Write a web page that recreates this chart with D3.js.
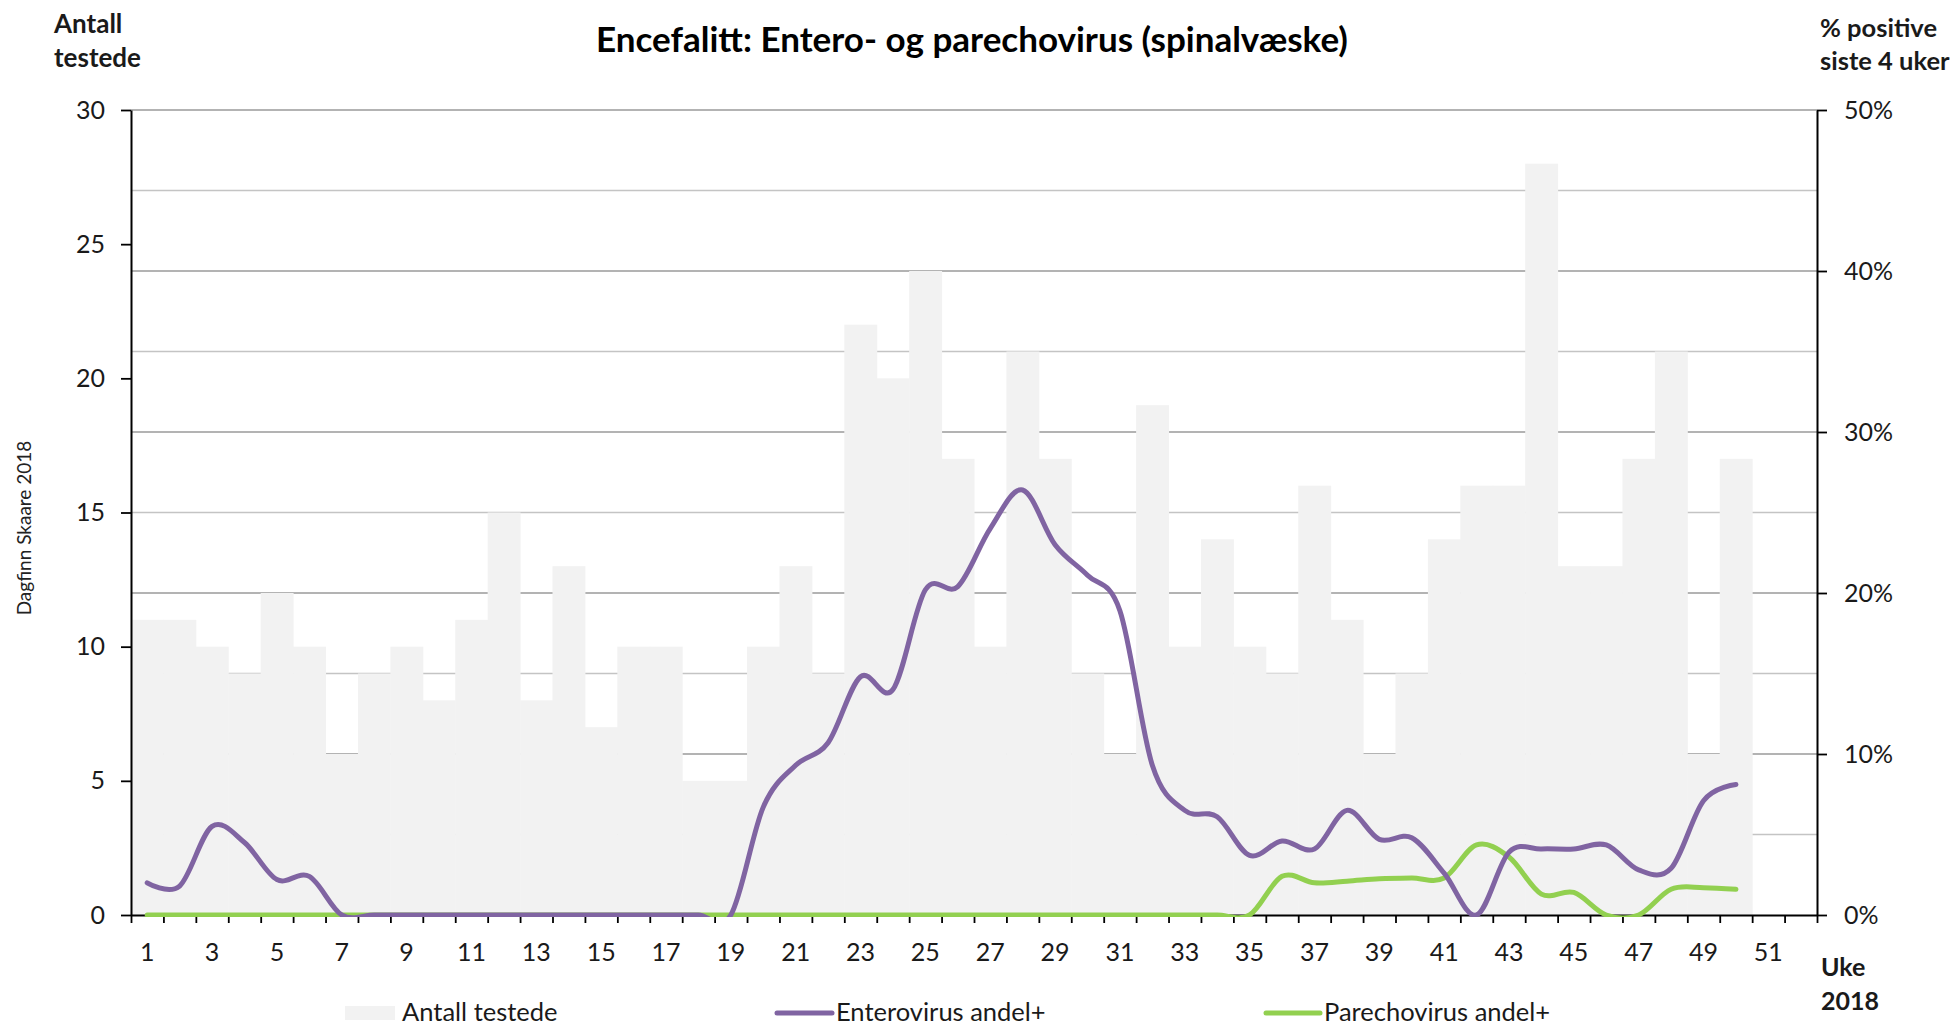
<!DOCTYPE html>
<html>
<head>
<meta charset="utf-8">
<script src="https://cdn.jsdelivr.net/npm/d3@7"></script>
<style>
  body { margin: 0; background: #fff; }
  svg { display: block; font-family: Lato, "Open Sans", sans-serif; }
</style>
</head>
<body>
<div id="chart"></div>
<script>
// Weeks shown on the category axis
const weeks = d3.range(1, 53);
const weekLabels = weeks.filter(w => w % 2 === 1);

// Antall testede per uke (uke 1-50)
const tested = [11, 11, 10, 9, 12, 10, 6, 9, 10, 8,
    11, 15, 8, 13, 7, 10, 10, 5, 5, 10,
    13, 9, 22, 20, 24, 17, 10, 21, 17, 9,
    6, 19, 10, 14, 10, 9, 16, 11, 6, 9,
    14, 16, 16, 28, 13, 13, 17, 21, 6, 17];

// % positive siste 4 uker
const enterovirus = [2.0, 1.8, 5.5, 4.5, 2.2, 2.4, 0, 0, 0, 0,
    0, 0, 0, 0, 0, 0, 0, 0, 0, 6.7,
    9.3, 10.7, 14.8, 14.0, 20.2, 20.4, 24.0, 26.4, 23.0, 21.1,
    18.9, 9.3, 6.5, 6.1, 3.7, 4.6, 4.1, 6.5, 4.7, 4.8,
    2.6, 0, 3.9, 4.1, 4.1, 4.35, 2.8, 2.9, 7.1, 8.1];
const parechovirus = [0, 0, 0, 0, 0, 0, 0, 0, 0, 0,
    0, 0, 0, 0, 0, 0, 0, 0, 0, 0,
    0, 0, 0, 0, 0, 0, 0, 0, 0, 0,
    0, 0, 0, 0, 0, 2.4, 2.0, 2.1, 2.25, 2.3,
    2.3, 4.35, 3.6, 1.3, 1.4, 0, 0, 1.6, 1.7, 1.6];

const leftTicks = [0, 5, 10, 15, 20, 25, 30];
const rightTicks = [0, 10, 20, 30, 40, 50];
const gridValues = d3.range(0, 55, 5);

const width = 1955, height = 1029;
const margin = { top: 110, right: 138, bottom: 114, left: 131 };
const plotW = width - margin.left - margin.right;
const plotH = height - margin.top - margin.bottom;

const svg = d3.select("#chart")
    .append("svg")
    .attr("width", width)
    .attr("height", height);

const g = svg.append("g")
    .attr("transform", `translate(${margin.left},${margin.top})`);

// Scales
const x = d3.scaleBand().domain(weeks).range([0, plotW]).padding(0);
const xEdges = d3.scaleLinear().domain([0, weeks.length]).range([0, plotW]);
const yLeft = d3.scaleLinear().domain([0, 30]).range([plotH, 0]);
const yRight = d3.scaleLinear().domain([0, 50]).range([plotH, 0]);

// Gridlines (every 5 % on the right axis)
g.selectAll(".grid")
    .data(gridValues.filter(v => v > 0))
    .enter()
    .append("line")
    .attr("x1", 0)
    .attr("x2", plotW)
    .attr("y1", d => yRight(d))
    .attr("y2", d => yRight(d))
    .attr("stroke", d => d % 10 === 0 ? "#9a9a9a" : "#c4c4c4")
    .attr("stroke-width", 1.5);

// Bars
g.selectAll(".bar")
    .data(tested)
    .enter()
    .append("rect")
    .attr("x", (d, i) => x(weeks[i]))
    .attr("y", d => yLeft(d))
    .attr("width", x.bandwidth() + 0.5)
    .attr("height", d => plotH - yLeft(d))
    .attr("fill", "#f2f2f2");

// Axes
const leftAxis = g.append("g")
    .call(d3.axisLeft(yLeft).tickValues(leftTicks).tickSize(10).tickPadding(16).tickSizeOuter(0));

const rightAxis = g.append("g")
    .attr("transform", `translate(${plotW},0)`)
    .call(d3.axisRight(yRight).tickValues(rightTicks).tickSize(10).tickPadding(17).tickSizeOuter(0)
        .tickFormat(d => d + "%"));

const edgeAxis = g.append("g")
    .attr("transform", `translate(0,${plotH})`)
    .call(d3.axisBottom(xEdges).tickValues(d3.range(0, weeks.length + 1))
        .tickSize(8).tickFormat("").tickSizeOuter(0));

const labelAxis = g.append("g")
    .attr("transform", `translate(0,${plotH})`)
    .call(d3.axisBottom(x).tickValues(weekLabels).tickSize(0).tickPadding(28));
labelAxis.select(".domain").remove();

[leftAxis, rightAxis, edgeAxis].forEach(a => {
    a.select(".domain").attr("stroke", "#000").attr("stroke-width", 2);
    a.selectAll(".tick line").attr("stroke", "#000").attr("stroke-width", 1.8);
});
[leftAxis, rightAxis, labelAxis].forEach(a => {
    a.selectAll("text")
        .attr("font-size", 25)
        .attr("font-family", "Lato, 'Open Sans', sans-serif")
        .attr("fill", "#1a1a1a");
});

// Lines, clipped to the plot area
svg.append("defs").append("clipPath")
    .attr("id", "plot-clip")
    .append("rect")
    .attr("x", 0)
    .attr("y", -4)
    .attr("width", plotW)
    .attr("height", plotH + 6);

const line = d3.line()
    .x((d, i) => x(weeks[i]) + x.bandwidth() / 2)
    .y(d => yRight(d))
    .curve(d3.curveCardinal.tension(0));

const lines = g.append("g").attr("clip-path", "url(#plot-clip)");

lines.append("path")
    .datum(parechovirus)
    .attr("d", line)
    .attr("fill", "none")
    .attr("stroke", "#92d050")
    .attr("stroke-width", 5)
    .attr("stroke-linecap", "round");

lines.append("path")
    .datum(enterovirus)
    .attr("d", line)
    .attr("fill", "none")
    .attr("stroke", "#8064a2")
    .attr("stroke-width", 5)
    .attr("stroke-linecap", "round");

// Title and axis titles
svg.append("text")
    .attr("x", 972)
    .attr("y", 52)
    .attr("text-anchor", "middle")
    .attr("font-size", 35)
    .attr("font-weight", "bold")
    .attr("fill", "#000")
    .text("Encefalitt: Entero- og parechovirus (spinalvæske)");

const leftTitle = svg.append("text")
    .attr("font-size", 26)
    .attr("font-weight", "bold")
    .attr("fill", "#1a1a1a");
leftTitle.append("tspan").attr("x", 54).attr("y", 33).text("Antall");
leftTitle.append("tspan").attr("x", 54).attr("y", 67).text("testede");

const rightTitle = svg.append("text")
    .attr("font-size", 25.5)
    .attr("font-weight", "bold")
    .attr("fill", "#1a1a1a");
rightTitle.append("tspan").attr("x", 1820).attr("y", 37).text("% positive");
rightTitle.append("tspan").attr("x", 1820).attr("y", 70).text("siste 4 uker");

const xTitle = svg.append("text")
    .attr("font-size", 25)
    .attr("font-weight", "bold")
    .attr("fill", "#1a1a1a");
xTitle.append("tspan").attr("x", 1821).attr("y", 976).text("Uke");
xTitle.append("tspan").attr("x", 1821).attr("y", 1010).text("2018");

// Signature
svg.append("text")
    .attr("transform", "translate(31,528) rotate(-90)")
    .attr("text-anchor", "middle")
    .attr("font-size", 19)
    .attr("fill", "#222")
    .text("Dagfinn Skaare 2018");

// Legend
const legendY = 1012;
const legend = svg.append("g").attr("font-size", 25.5).attr("fill", "#1a1a1a");

legend.append("rect")
    .attr("x", 345).attr("y", legendY - 6)
    .attr("width", 50).attr("height", 14)
    .attr("fill", "#f2f2f2");
legend.append("text")
    .attr("x", 402).attr("y", legendY).attr("dy", "0.35em")
    .text("Antall testede");

legend.append("line")
    .attr("x1", 777).attr("x2", 832)
    .attr("y1", legendY + 1).attr("y2", legendY + 1)
    .attr("stroke", "#8064a2").attr("stroke-width", 5).attr("stroke-linecap", "round");
legend.append("text")
    .attr("x", 836).attr("y", legendY).attr("dy", "0.35em")
    .text("Enterovirus andel+");

legend.append("line")
    .attr("x1", 1266).attr("x2", 1320)
    .attr("y1", legendY + 1).attr("y2", legendY + 1)
    .attr("stroke", "#92d050").attr("stroke-width", 5).attr("stroke-linecap", "round");
legend.append("text")
    .attr("x", 1324).attr("y", legendY).attr("dy", "0.35em")
    .text("Parechovirus andel+");
</script>
</body>
</html>
